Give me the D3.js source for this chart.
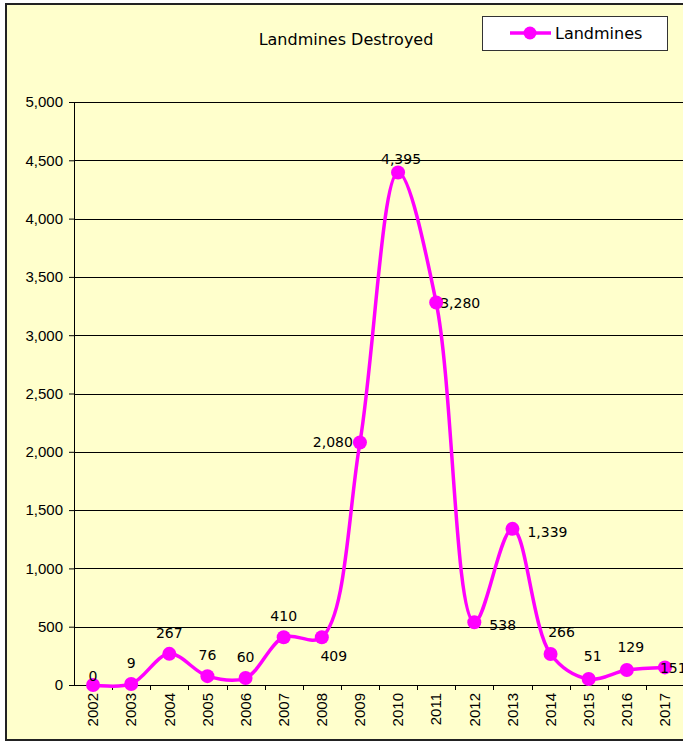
<!DOCTYPE html>
<meta charset="utf-8">
<style>
body { margin: 0; background: #fff; }
svg { display: block; font-family: "DejaVu Sans", sans-serif; }
.grid line { stroke: #000; stroke-width: 1; }
.axis path, .axis line { stroke: #000; }
.axis text { font-size: 15px; fill: #000; }
.lbl { font-size: 14px; fill: #000; }
</style>
<body>
<script src="https://d3js.org/d3.v7.min.js"></script>
<script>
var years = ['2002','2003','2004','2005','2006','2007','2008','2009','2010','2011','2012','2013','2014','2015','2016','2017']
var landmines = [0, 9, 267, 76, 60, 410, 409, 2080, 4395, 3280, 538, 1339, 266, 51, 129, 151]
var yTicks = [0, 500, 1000, 1500, 2000, 2500, 3000, 3500, 4000, 4500, 5000]

var width = 683, height = 742
var plotL = 74, plotT = 102, plotB = 685, plotR = 684

// label placement around each marker: [anchor, dx, dy]
var labelPos = {
    '2002': ['middle', 0, -4],
    '2008': ['middle', 12, 24],
    '2009': ['end', -7, 5],
    '2010': ['middle', 3, -9],
    '2011': ['start', 4, 5],
    '2012': ['start', 15, 8],
    '2013': ['start', 15, 8],
    '2014': ['middle', 11, -17],
    '2015': ['middle', 4, -18],
    '2016': ['middle', 4, -18],
    '2017': ['start', -5, 6]
}

var svg = d3.select('body').append('svg')
    .attr('width', width)
    .attr('height', height)

// chart area
svg.append('rect')
    .attr('x', 6).attr('y', 4)
    .attr('width', width + 10).attr('height', 736)
    .attr('fill', '#ffffcc')
    .attr('stroke', '#222')
    .attr('stroke-width', 2)

var x = d3.scaleBand().domain(years).range([plotL, plotR])
var y = d3.scaleLinear().domain([0, 5000]).range([plotB, plotT])

svg.append('g')
    .attr('class', 'grid')
    .selectAll('line')
    .data(yTicks.slice(1))
    .enter().append('line')
    .attr('x1', plotL).attr('x2', width)
    .attr('y1', function (d) { return Math.round(y(d)) + 0.5 })
    .attr('y2', function (d) { return Math.round(y(d)) + 0.5 })

var yAxis = svg.append('g')
    .attr('class', 'axis')
    .attr('transform', 'translate(' + plotL + ',0)')
    .call(d3.axisLeft(y).tickValues(yTicks).tickFormat(d3.format(',')).tickSize(5).tickSizeOuter(0))
yAxis.selectAll('text').attr('dx', -3)

var xAxis = svg.append('g')
    .attr('class', 'axis')
    .attr('transform', 'translate(0,' + plotB + ')')
    .call(d3.axisBottom(x).tickSize(0).tickSizeOuter(0))
xAxis.select('.domain').attr('d', 'M' + plotL + ',0.5H' + width)
xAxis.selectAll('text')
    .attr('transform', 'rotate(-90)')
    .attr('x', -8).attr('y', 0).attr('dy', '0.35em')
    .style('text-anchor', 'end')

// tick marks between categories
xAxis.selectAll('.sep')
    .data(years.slice(1))
    .enter().append('line')
    .attr('class', 'sep')
    .attr('x1', function (d) { return Math.round(x(d)) + 0.5 })
    .attr('x2', function (d) { return Math.round(x(d)) + 0.5 })
    .attr('y1', 0).attr('y2', 5)

var pts = years.map(function (d, i) { return [x(d) + x.bandwidth() / 2, y(landmines[i])] })

svg.append('path')
    .attr('d', d3.line().curve(d3.curveCatmullRom.alpha(0.5))(pts))
    .attr('fill', 'none')
    .attr('stroke', '#ff00ff')
    .attr('stroke-width', 3.5)

svg.append('g')
    .selectAll('circle')
    .data(pts)
    .enter().append('circle')
    .attr('cx', function (d) { return d[0] })
    .attr('cy', function (d) { return d[1] })
    .attr('r', 7)
    .attr('fill', '#ff00ff')

svg.append('g')
    .selectAll('text')
    .data(years)
    .enter().append('text')
    .attr('class', 'lbl')
    .each(function (d, i) {
        var p = pts[i], pos = labelPos[d] || ['middle', 0, -16]
        d3.select(this)
            .attr('x', p[0] + pos[1])
            .attr('y', p[1] + pos[2])
            .attr('text-anchor', pos[0])
            .text(d3.format(',')(landmines[i]))
    })

svg.append('text')
    .attr('x', 346).attr('y', 45)
    .attr('text-anchor', 'middle')
    .style('font-size', '16px')
    .text('Landmines Destroyed')

// legend
var lg = svg.append('g')
lg.append('rect')
    .attr('x', 482.5).attr('y', 16.5)
    .attr('width', 185).attr('height', 34)
    .attr('fill', '#fff')
    .attr('stroke', '#333')
lg.append('line')
    .attr('x1', 510).attr('x2', 551)
    .attr('y1', 33).attr('y2', 33)
    .attr('stroke', '#ff00ff').attr('stroke-width', 3.5)
lg.append('circle')
    .attr('cx', 530).attr('cy', 33).attr('r', 6.5)
    .attr('fill', '#ff00ff')
lg.append('text')
    .attr('x', 555).attr('y', 39)
    .style('font-size', '16px')
    .text('Landmines')
</script>
</body>
